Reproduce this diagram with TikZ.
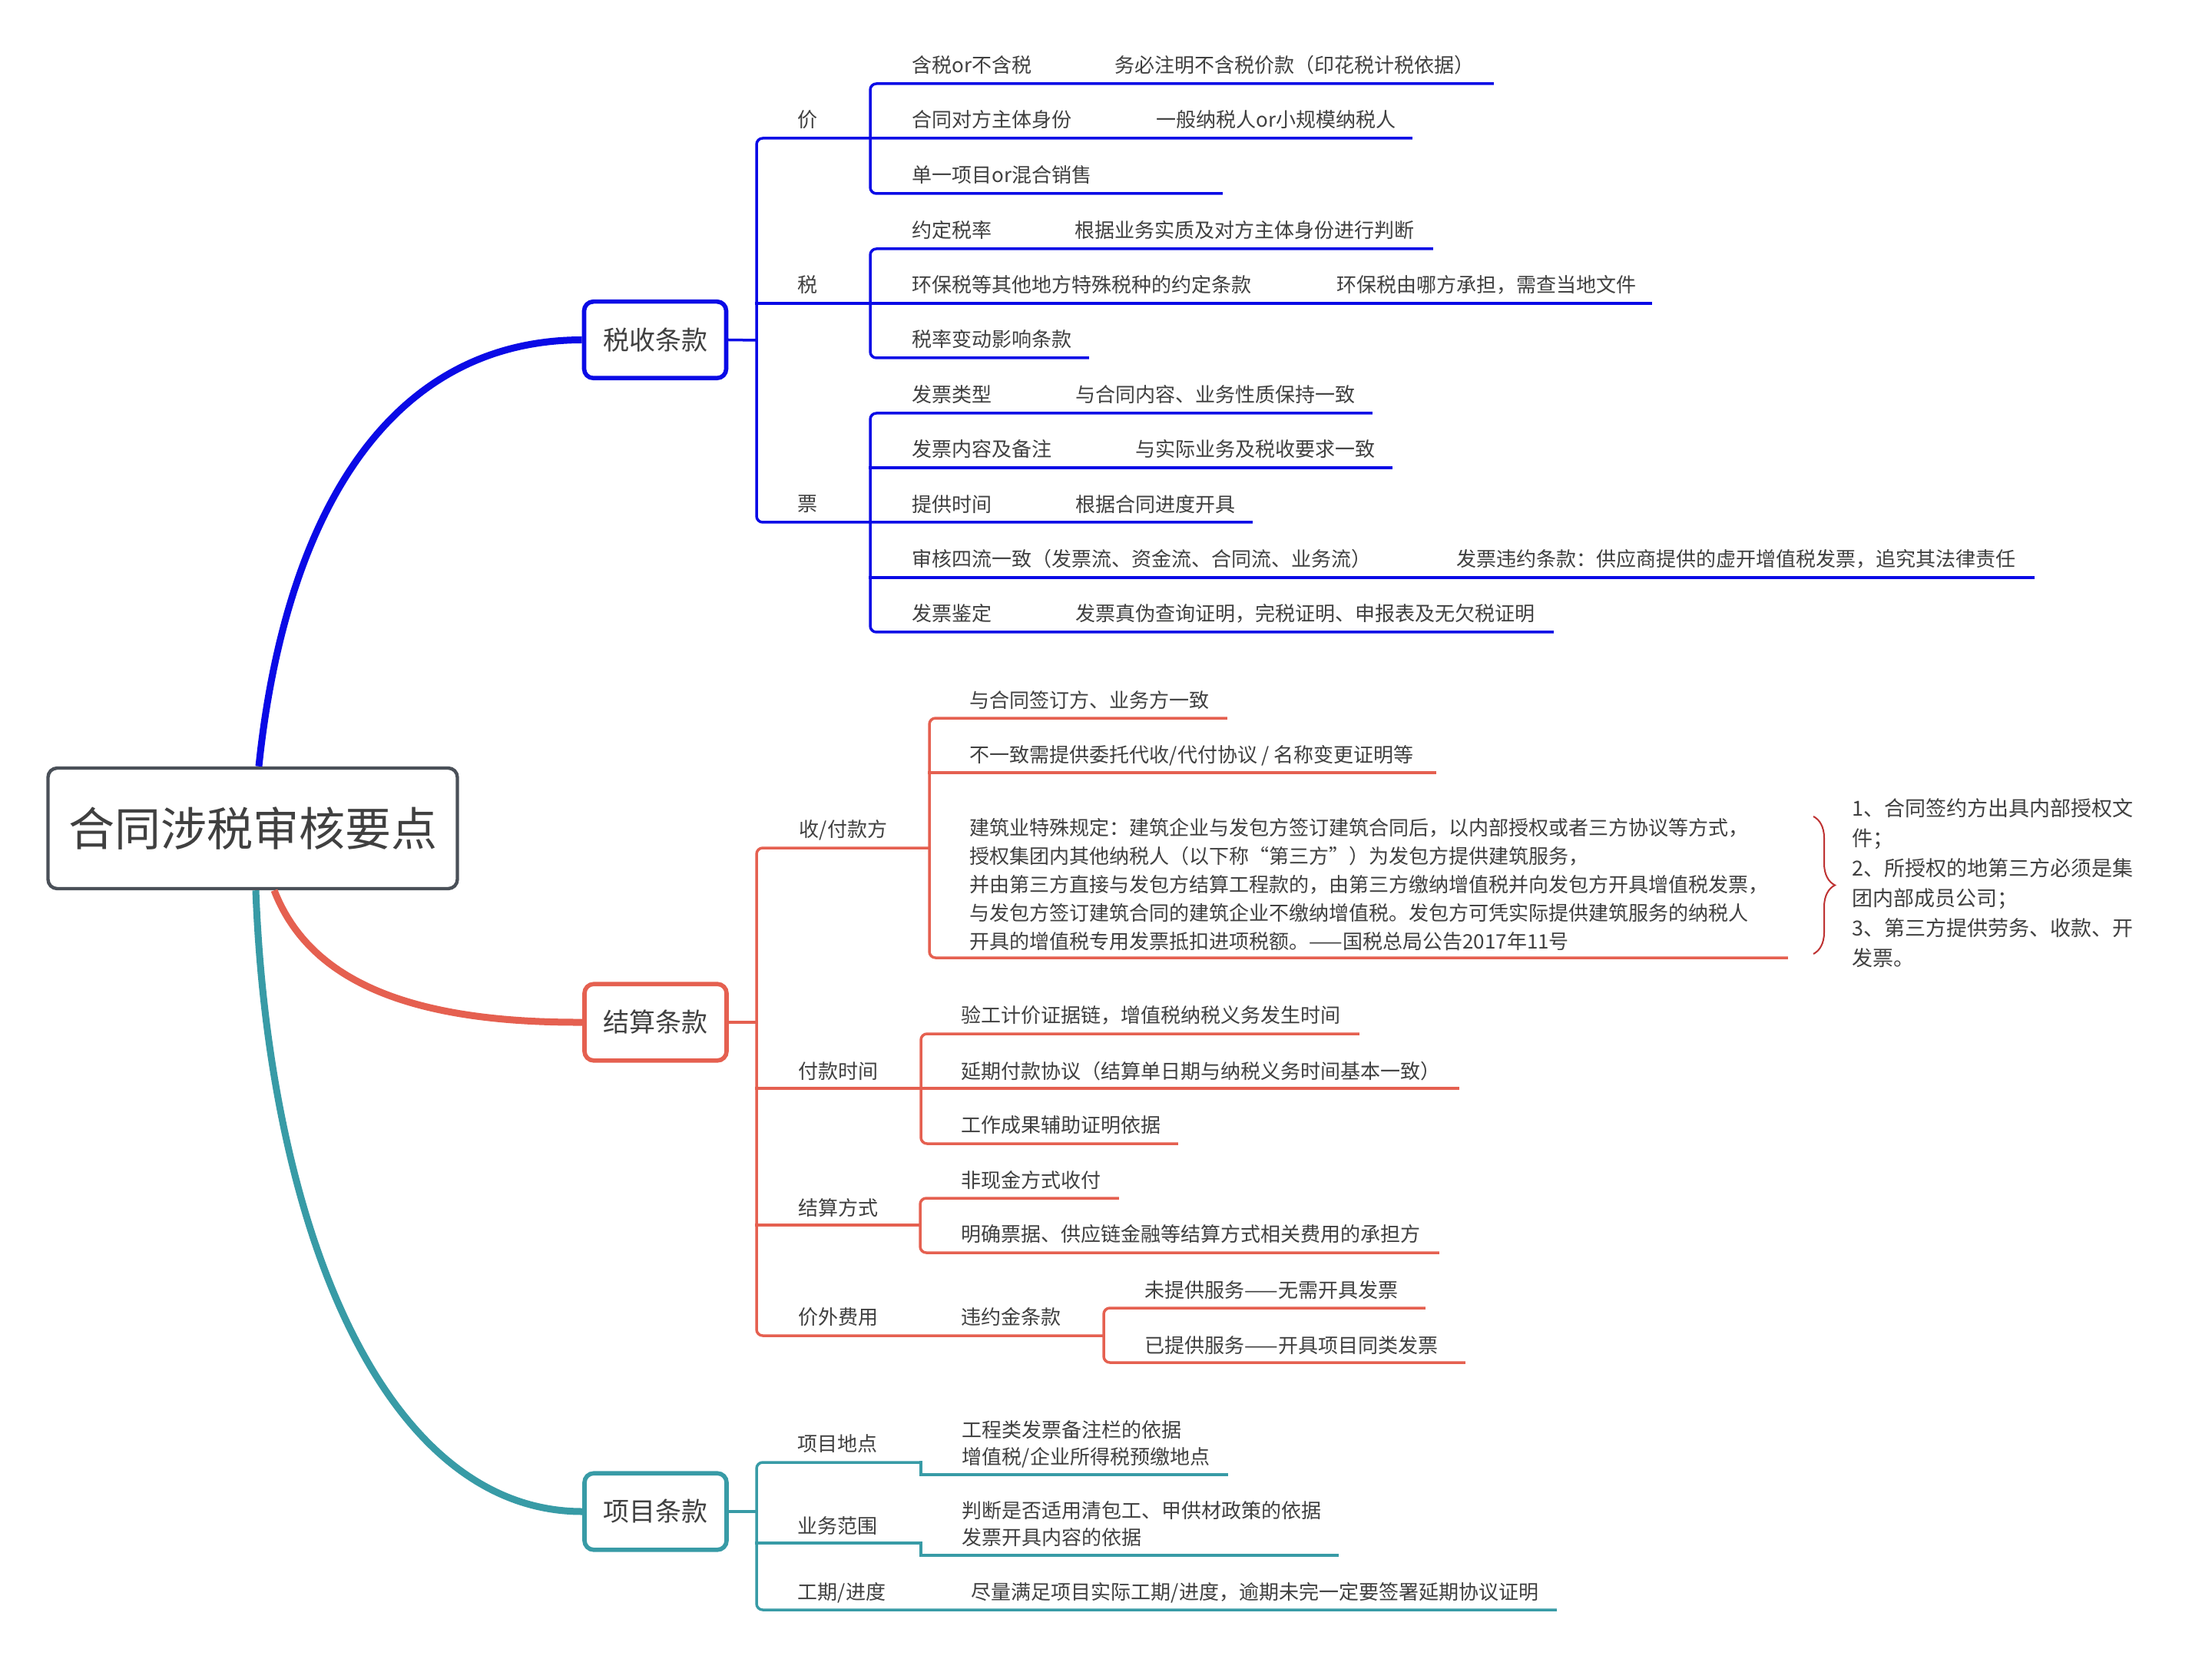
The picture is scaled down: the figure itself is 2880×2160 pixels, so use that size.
\documentclass[tikz,border=0pt]{standalone}
\usepackage{fontspec}
\setmainfont{Noto Sans CJK SC}
\usetikzlibrary{decorations.pathreplacing}
\definecolor{blueC}{RGB}{10,10,230}
\definecolor{redC}{RGB}{229,96,80}
\definecolor{tealC}{RGB}{56,155,166}
\definecolor{txt}{RGB}{64,64,64}
\definecolor{rootC}{RGB}{74,80,88}
\definecolor{braceC}{RGB}{190,50,50}
\begin{document}
\begin{tikzpicture}[x=0.25pt,y=-0.25pt,
  lf/.style={anchor=west, inner sep=0pt, font=\fontsize{6.5}{9.25}\selectfont, text=txt},
  rootbox/.style={draw=rootC, line width=1.1pt, rounded corners=3pt, fill=white,
    minimum width=133.25pt, minimum height=39.25pt, inner sep=0pt,
    font=\fontsize{15}{18}\selectfont, text=txt},
  topbox/.style={line width=1.4pt, rounded corners=3pt, fill=white,
    minimum width=46.25pt, minimum height=24.9pt, inner sep=0pt,
    font=\fontsize{8.5}{10}\selectfont, text=txt},
  tree/.style={line width=0.875pt, rounded corners=2pt, line cap=rect},
  bl/.style={tree, draw=blueC},
  rd/.style={tree, draw=redC},
  tl/.style={tree, draw=tealC},
  curve/.style={line width=2.25pt}
]
\fill[white] (0,0) rectangle (2880,2160);
\useasboundingbox (0,0) rectangle (2880,2160);

% main nodes
\node[rootbox] (root) at (329,1078.5) {合同涉税审核要点};
\node[topbox, draw=blueC] (tax) at (853,442.5) {税收条款};
\node[topbox, draw=redC] (settle) at (853.5,1331) {结算条款};
\node[topbox, draw=tealC] (proj) at (853.5,1968) {项目条款};

% main curves
\draw[curve, blueC] ([xshift=2pt]root.north) .. controls (370,680) and (500,443) .. (tax.west);
\draw[curve, redC] ([xshift=7pt]root.south) .. controls (400,1270) and (520,1332) .. (settle.west);
\draw[curve, tealC] ([xshift=1pt]root.south) .. controls (350,1600) and (500,1968) .. (proj.west);

% ---------------- blue branch ----------------
\draw[bl] (tax.east) -- (985,443);
\draw[bl] (1837,180) -- (985,180) -- (985,680) -- (1629,680);
\draw[bl] (985,395) -- (2149,395);
\draw[bl] (1943,109) -- (1133,109) -- (1133,252) -- (1590,252);
\draw[bl] (1864,324) -- (1133,324) -- (1133,466) -- (1416,466);
\draw[bl] (1785,538) -- (1133,538) -- (1133,823) -- (2021,823);
\draw[bl] (1133,609) -- (1811,609);
\draw[bl] (1133,752) -- (2647,752);

\node[lf] (jia) at (1038,156) {价};
\node[lf] (shui) at (1038,371) {税};
\node[lf] (piao) at (1038,656) {票};

\node[lf] (b1) at (1187,85) {含税or不含税};
\node[lf] (b1a) at (1451,85) {务必注明不含税价款（印花税计税依据）};
\node[lf] (b2) at (1187,156) {合同对方主体身份};
\node[lf] (b2a) at (1505,156) {一般纳税人or小规模纳税人};
\node[lf] (b3) at (1187,228) {单一项目or混合销售};
\node[lf] (b4) at (1187,300) {约定税率};
\node[lf] (b4a) at (1399,300) {根据业务实质及对方主体身份进行判断};
\node[lf] (b5) at (1187,371) {环保税等其他地方特殊税种的约定条款};
\node[lf] (b5a) at (1740,371) {环保税由哪方承担，需查当地文件};
\node[lf] (b6) at (1187,442) {税率变动影响条款};
\node[lf] (b7) at (1187,514) {发票类型};
\node[lf] (b7a) at (1400,514) {与合同内容、业务性质保持一致};
\node[lf] (b8) at (1187,585) {发票内容及备注};
\node[lf] (b8a) at (1478,585) {与实际业务及税收要求一致};
\node[lf] (b9) at (1187,657) {提供时间};
\node[lf] (b9a) at (1400,657) {根据合同进度开具};
\node[lf] (b10) at (1187,728) {审核四流一致（发票流、资金流、合同流、业务流）};
\node[lf] (b10a) at (1896,728) {发票违约条款：供应商提供的虚开增值税发票，追究其法律责任};
\node[lf] (b11) at (1187,799) {发票鉴定};
\node[lf] (b11a) at (1400,799) {发票真伪查询证明，完税证明、申报表及无欠税证明};

% ---------------- red branch ----------------
\draw[rd] (settle.east) -- (985,1331);
\draw[rd] (1210,1104) -- (985,1104) -- (985,1739) -- (1437,1739);
\draw[rd] (985,1417) -- (1898,1417);
\draw[rd] (985,1595) -- (1198,1595);
\draw[rd] (1596,935) -- (1210,935) -- (1210,1247) -- (2326,1247);
\draw[rd] (1210,1006) -- (1868,1006);
\draw[rd] (1768,1346) -- (1199,1346) -- (1199,1489) -- (1532,1489);
\draw[rd] (1455,1560) -- (1198,1560) -- (1198,1631) -- (1872,1631);
\draw[rd] (1854,1703) -- (1437,1703) -- (1437,1774) -- (1906,1774);

\node[lf] (sk) at (1040,1081) {收/付款方};
\node[lf] (fs) at (1039,1395) {付款时间};
\node[lf] (js) at (1039,1573) {结算方式};
\node[lf] (jw) at (1039,1715) {价外费用};

\node[lf] (r1) at (1262,912) {与合同签订方、业务方一致};
\node[lf] (r2) at (1262,984) {不一致需提供委托代收/代付协议 / 名称变更证明等};
\node[lf, align=left] (r3) at (1262,1152) {建筑业特殊规定：建筑企业与发包方签订建筑合同后，以内部授权或者三方协议等方式，\\授权集团内其他纳税人（以下称“第三方”）为发包方提供建筑服务，\\并由第三方直接与发包方结算工程款的，由第三方缴纳增值税并向发包方开具增值税发票，\\与发包方签订建筑合同的建筑企业不缴纳增值税。发包方可凭实际提供建筑服务的纳税人\\开具的增值税专用发票抵扣进项税额。——国税总局公告2017年11号};
\draw[braceC, line width=0.5pt, decorate, decoration={brace, amplitude=7pt}] (2361,1063) -- (2361,1242);
\node[anchor=west, inner sep=0pt, align=left, font=\fontsize{6.75}{9.75}\selectfont, text=txt] (note) at (2411,1150) {1、合同签约方出具内部授权文\\件；\\2、所授权的地第三方必须是集\\团内部成员公司；\\3、第三方提供劳务、收款、开\\发票。};

\node[lf] (r4) at (1251,1322) {验工计价证据链，增值税纳税义务发生时间};
\node[lf] (r5) at (1251,1395) {延期付款协议（结算单日期与纳税义务时间基本一致）};
\node[lf] (r6) at (1251,1465) {工作成果辅助证明依据};
\node[lf] (r7) at (1251,1537) {非现金方式收付};
\node[lf] (r8) at (1251,1607) {明确票据、供应链金融等结算方式相关费用的承担方};
\node[lf] (r9) at (1251,1715) {违约金条款};
\node[lf] (r9a) at (1490,1680) {未提供服务——无需开具发票};
\node[lf] (r9b) at (1490,1752) {已提供服务——开具项目同类发票};

% ---------------- teal branch ----------------
\draw[tl] (proj.east) -- (985,1968);
\draw[tl] (1199,1904) -- (985,1904) -- (985,2096) -- (2025,2096);
\draw[tl, sharp corners] (1199,1904) -- (1199,1920) -- (1597,1920);
\draw[tl, sharp corners] (985,2009) -- (1199,2009) -- (1199,2025) -- (1741,2025);

\node[lf] (xd) at (1038,1880) {项目地点};
\node[lf] (yw) at (1038,1987) {业务范围};
\node[lf] (gq) at (1038,2074) {工期/进度};

\node[lf, align=left, font=\fontsize{6.5}{8.75}\selectfont] (t1) at (1252,1880) {工程类发票备注栏的依据\\增值税/企业所得税预缴地点};
\node[lf, align=left, font=\fontsize{6.5}{8.75}\selectfont] (t2) at (1252,1984) {判断是否适用清包工、甲供材政策的依据\\发票开具内容的依据};
\node[lf] (t3) at (1264,2074) {尽量满足项目实际工期/进度，逾期未完一定要签署延期协议证明};
\end{tikzpicture}
\end{document}
